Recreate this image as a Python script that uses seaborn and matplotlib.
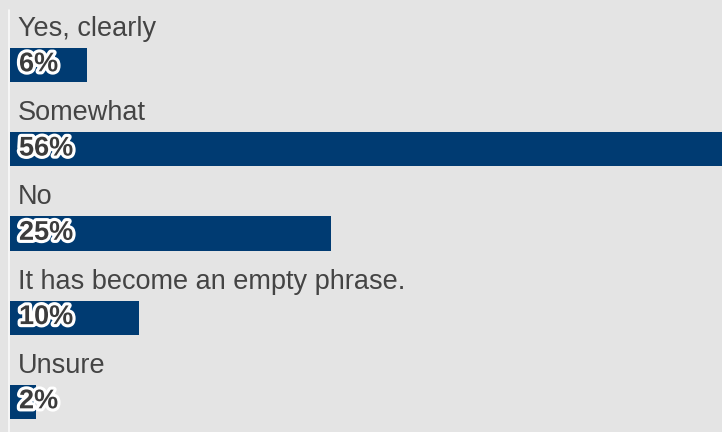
import matplotlib
matplotlib.use("Agg")
import matplotlib.pyplot as plt
import matplotlib.patheffects as pe
from matplotlib.lines import Line2D
import seaborn as sns
import pandas as pd

categories = ["Yes, clearly", "Somewhat", "No", "It has become an empty phrase.", "Unsure"]
values = [6, 56, 25, 10, 2]
value_labels = ["6%", "56%", "25%", "10%", "2%"]

BG = "#e4e4e4"
BAR = "#003b72"
TXT = "#444444"

sns.set_theme(style="white")
plt.rcParams["font.family"] = ["Liberation Sans", "DejaVu Sans"]

W, H = 722, 432
fig = plt.figure(figsize=(W / 100, H / 100), dpi=100)
fig.patch.set_facecolor(BG)
ax = fig.add_axes([0, 0, 1, 1])
ax.set_facecolor(BG)

df = pd.DataFrame({"category": categories, "value": values})
sns.barplot(data=df, x="value", y="category", orient="h", color=BAR,
            saturation=1, width=0.405, ax=ax, edgecolor="none")

# pixel mapping
px_per_unit = 12.85
x0_px = 10
ax.set_xlim(-x0_px / px_per_unit, (W - x0_px) / px_per_unit)
step = 84.25
c0 = 65
ax.set_ylim((H - c0) / step, -c0 / step)

for i, (cat, lab) in enumerate(zip(categories, value_labels)):
    ax.text(8 / px_per_unit, i - 0.345, cat, ha="left", va="baseline",
            fontsize=19.5, color=TXT)
    ax.text(9 / px_per_unit, i + 0.075, lab, ha="left", va="baseline",
            fontsize=19.5, fontweight="bold", color="#3c3c3c",
            path_effects=[pe.withStroke(linewidth=4.5, foreground="white")])

fig.add_artist(Line2D([8.5 / W, 8.5 / W], [0, 1 - 10 / H], color="#fafafa",
                      linewidth=1.2, transform=fig.transFigure))

ax.set_xlabel("")
ax.set_ylabel("")
ax.set_xticks([])
ax.set_yticks([])
for s in ax.spines.values():
    s.set_visible(False)

fig.savefig("out.png", dpi=100, facecolor=BG)
